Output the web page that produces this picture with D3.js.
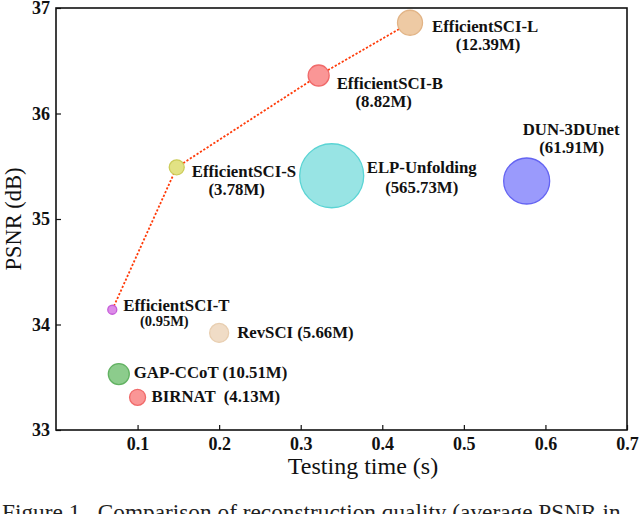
<!DOCTYPE html>
<html>
<head>
<meta charset="utf-8">
<script src="https://cdn.jsdelivr.net/npm/d3@7"></script>
<style>
  body { margin: 0; background: #fff; }
  svg { display: block; }
</style>
</head>
<body>
<svg id="grafico"></svg>
<script>
// valores
const modelos = ["EfficientSCI-T", "EfficientSCI-S", "EfficientSCI-B", "EfficientSCI-L",
  "ELP-Unfolding", "DUN-3DUnet", "RevSCI", "GAP-CCoT", "BIRNAT"];
const tiempos = [0.069, 0.148, 0.322, 0.434, 0.338, 0.577, 0.200, 0.077, 0.100];
const psnr = [34.14, 35.49, 36.36, 36.86, 35.41, 35.36, 33.92, 33.53, 33.31];
const parametros = ["0.95M", "3.78M", "8.82M", "12.39M", "565.73M", "61.91M", "5.66M", "10.51M", "4.13M"];
const lineaEfficient = ["EfficientSCI-T", "EfficientSCI-S", "EfficientSCI-B", "EfficientSCI-L"];

const ticksX = [0.1, 0.2, 0.3, 0.4, 0.5, 0.6, 0.7];
const ticksY = [33, 34, 35, 36, 37];

const WIDTH = 640,
  HEIGHT = 514;

const margins = { top: 8, bottom: 84, left: 56, right: 13 };
const FUENTE = "Liberation Serif";

// estilo de cada burbuja: radio, relleno, borde
const estilos = {
  "EfficientSCI-T": { r: 4.5, fill: "#dc8ce8", stroke: "#c65cd8" },
  "EfficientSCI-S": { r: 7.5, fill: "#e2e284", stroke: "#cccc5a" },
  "EfficientSCI-B": { r: 10.5, fill: "#fa9696", stroke: "#f06a6a" },
  "EfficientSCI-L": { r: 12.5, fill: "#eecaa4", stroke: "#e2b486" },
  "ELP-Unfolding": { r: 32, fill: "#98e4e4", stroke: "#5ad4d4" },
  "DUN-3DUnet": { r: 23, fill: "#9a9afc", stroke: "#6464f2" },
  "RevSCI": { r: 9.5, fill: "#f0dcc6", stroke: "#e8ceb0" },
  "GAP-CCoT": { r: 10.5, fill: "#8ccc8c", stroke: "#62b262" },
  "BIRNAT": { r: 8, fill: "#fa9696", stroke: "#f06a6a" }
};

// posicion de las etiquetas respecto al centro de la burbuja
const etiquetas = {
  "EfficientSCI-T": { dx: 11, dy: 1, sub: { dx: 52, dy: 16, size: 14.5 } },
  "EfficientSCI-S": { dx: 15, dy: 10, sub: { dx: 60, dy: 28 } },
  "EfficientSCI-B": { dx: 18, dy: 13, sub: { dx: 65, dy: 31 } },
  "EfficientSCI-L": { dx: 22, dy: 9, sub: { dx: 78, dy: 27 } },
  "ELP-Unfolding": { dx: 35, dy: -3, sub: { dx: 90, dy: 17 } },
  "DUN-3DUnet": { dx: -4, dy: -46, sub: { dx: 45, dy: -28 } },
  "RevSCI": { dx: 18, dy: 5, inline: true },
  "GAP-CCoT": { dx: 15, dy: 4, inline: true },
  "BIRNAT": { dx: 14, dy: 5, inline: true, sep: "  " }
};

const datos = modelos.map((m, i) => ({
  modelo: m,
  tiempo: tiempos[i],
  psnr: psnr[i],
  param: parametros[i]
}));

const svg = d3.select("#grafico")
  .attr("width", WIDTH)
  .attr("height", HEIGHT)
  .attr("font-family", FUENTE);

const escalaX = d3.scaleLinear()
  .domain([0, 0.7])
  .range([margins.left, WIDTH - margins.right]);

const escalaY = d3.scaleLinear()
  .domain([33, 37])
  .range([HEIGHT - margins.bottom, margins.top]);

// ejes con ticks hacia adentro
const ejeX = d3.axisBottom(escalaX)
  .tickValues(ticksX)
  .tickFormat(d3.format(".1f"))
  .tickSize(-5)
  .tickPadding(7);

const ejeY = d3.axisLeft(escalaY)
  .tickValues(ticksY)
  .tickFormat(d3.format("d"))
  .tickSize(-5)
  .tickPadding(6);

const contenedorEjeX = svg.append("g")
  .attr("transform", `translate(0 ${HEIGHT - margins.bottom})`)
  .call(ejeX);

const contenedorEjeY = svg.append("g")
  .attr("transform", `translate(${margins.left} 0)`)
  .call(ejeY);

[contenedorEjeX, contenedorEjeY].forEach(eje => {
  eje.attr("font-family", FUENTE).attr("font-size", 18);
  eje.select(".domain").remove();
  eje.selectAll(".tick line").attr("stroke", "#111").attr("stroke-width", 1.2);
  eje.selectAll(".tick text")
    .attr("fill", "#111")
    .attr("font-weight", "bold");
});

// marco
svg.append("rect")
  .attr("x", margins.left)
  .attr("y", margins.top)
  .attr("width", WIDTH - margins.left - margins.right)
  .attr("height", HEIGHT - margins.top - margins.bottom)
  .attr("fill", "none")
  .attr("stroke", "#111")
  .attr("stroke-width", 1.6);

// linea punteada de EfficientSCI
const puntosLinea = lineaEfficient.map(m => datos.find(d => d.modelo === m));
svg.append("path")
  .datum(puntosLinea)
  .attr("d", d3.line().x(d => escalaX(d.tiempo)).y(d => escalaY(d.psnr)))
  .attr("fill", "none")
  .attr("stroke", "#ff3c0a")
  .attr("stroke-width", 1.8)
  .attr("stroke-dasharray", "2.2,1.8");

// burbujas
svg.append("g")
  .selectAll("circle")
  .data(datos)
  .join("circle")
  .attr("cx", d => escalaX(d.tiempo))
  .attr("cy", d => escalaY(d.psnr))
  .attr("r", d => estilos[d.modelo].r)
  .attr("fill", d => estilos[d.modelo].fill)
  .attr("stroke", d => estilos[d.modelo].stroke)
  .attr("stroke-width", 1.3);

// etiquetas
const contenedorEtiquetas = svg.append("g")
  .attr("font-weight", "bold")
  .attr("font-size", 16.8)
  .attr("fill", "#111");

datos.forEach(d => {
  const e = etiquetas[d.modelo];
  const cx = escalaX(d.tiempo), cy = escalaY(d.psnr);
  if (e.inline) {
    contenedorEtiquetas.append("text")
      .attr("x", cx + e.dx)
      .attr("y", cy + e.dy)
      .style("white-space", "pre")
      .text(`${d.modelo}${e.sep || " "}(${d.param})`);
  } else {
    contenedorEtiquetas.append("text")
      .attr("x", cx + e.dx)
      .attr("y", cy + e.dy)
      .text(d.modelo);
    contenedorEtiquetas.append("text")
      .attr("x", cx + e.sub.dx)
      .attr("y", cy + e.sub.dy)
      .attr("text-anchor", "middle")
      .attr("font-size", e.sub.size || 16.8)
      .text(`(${d.param})`);
  }
});

// titulos de los ejes
svg.append("text")
  .attr("x", 363)
  .attr("y", 474)
  .attr("text-anchor", "middle")
  .attr("font-size", 24)
  .attr("fill", "#111")
  .text("Testing time (s)");

svg.append("text")
  .attr("transform", `translate(21 ${(margins.top + HEIGHT - margins.bottom) / 2}) rotate(-90)`)
  .attr("text-anchor", "middle")
  .attr("font-size", 22.5)
  .attr("fill", "#111")
  .text("PSNR (dB)");

// pie de figura (cortado en el borde)
svg.append("text")
  .attr("x", 2)
  .attr("y", 519.5)
  .attr("font-size", 23.3)
  .attr("fill", "#222")
  .style("white-space", "pre")
  .text("Figure 1.  Comparison of reconstruction quality (average PSNR in");
</script>
</body>
</html>
